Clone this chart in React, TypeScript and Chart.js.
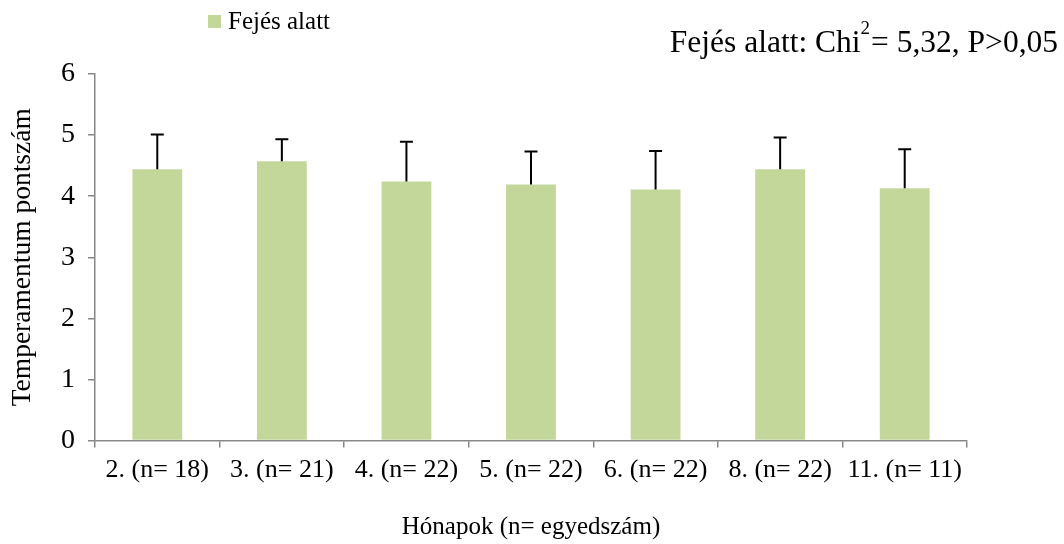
import { useEffect, useRef } from "react";
import { Chart, registerables } from "chart.js";

Chart.register(...registerables);

const categories = [
  "2. (n= 18)",
  "3. (n= 21)",
  "4. (n= 22)",
  "5. (n= 22)",
  "6. (n= 22)",
  "8. (n= 22)",
  "11. (n= 11)",
];
const meanScores = [4.44, 4.57, 4.24, 4.19, 4.11, 4.44, 4.13];
const sdScores = [0.57, 0.36, 0.65, 0.54, 0.63, 0.52, 0.64];
const yTickValues = [0, 1, 2, 3, 4, 5, 6];
const seriesLabel = "Fejés alatt";
const statMain = "Fejés alatt: Chi";
const statSup = "2";
const statRest = "= 5,32, P>0,05";
const xTitle = "Hónapok (n= egyedszám)";
const yTitle = "Temperamentum pontszám";

const FONT = '"Liberation Serif", "Times New Roman", serif';
const BAR_COLOR = "#C4D79B";
const AXIS_COLOR = "#888888";

const errorBarPlugin = {
  id: "errorBars",
  afterDatasetsDraw(chart: any) {
    const meta = chart.getDatasetMeta(0);
    const yScale = chart.scales.y;
    const ctx = chart.ctx;
    ctx.save();
    ctx.strokeStyle = "#000000";
    ctx.lineWidth = 2;
    meta.data.forEach((bar: any, i: number) => {
      const x = bar.x;
      const base = yScale.getPixelForValue(meanScores[i]);
      const top = yScale.getPixelForValue(meanScores[i] + sdScores[i]);
      ctx.beginPath();
      ctx.moveTo(x, base);
      ctx.lineTo(x, top);
      ctx.moveTo(x - 6.5, top);
      ctx.lineTo(x + 6.5, top);
      ctx.stroke();
    });
    ctx.restore();
  },
};

const headerPlugin = {
  id: "header",
  afterDraw(chart: any) {
    const ctx = chart.ctx;
    const ds = chart.data.datasets[0];
    ctx.save();
    // legend
    ctx.fillStyle = ds.backgroundColor;
    ctx.fillRect(208, 15, 13, 13);
    ctx.fillStyle = "#000000";
    ctx.font = `25px ${FONT}`;
    ctx.textBaseline = "alphabetic";
    ctx.textAlign = "left";
    ctx.fillText(ds.label, 228, 29);
    // statistics annotation
    const mainFont = `31.5px ${FONT}`;
    const supFont = `19px ${FONT}`;
    ctx.font = mainFont;
    const wMain = ctx.measureText(statMain).width;
    const wRest = ctx.measureText(statRest).width;
    ctx.font = supFont;
    const wSup = ctx.measureText(statSup).width;
    const right = 1058;
    const start = right - wRest - wSup - wMain - 1;
    ctx.font = mainFont;
    ctx.fillText(statMain, start, 52);
    ctx.font = supFont;
    ctx.fillText(statSup, start + wMain, 34);
    ctx.font = mainFont;
    ctx.fillText(statRest, start + wMain + wSup + 1, 52);
    ctx.restore();
  },
};

export default function App() {
  const canvasRef = useRef<HTMLCanvasElement | null>(null);

  useEffect(() => {
    if (!canvasRef.current) return;
    const chart = new Chart(canvasRef.current, {
      type: "bar",
      data: {
        labels: categories,
        datasets: [
          {
            label: seriesLabel,
            data: meanScores,
            backgroundColor: BAR_COLOR,
            borderWidth: 0,
            barPercentage: 0.4,
            categoryPercentage: 1.0,
          },
        ],
      },
      plugins: [errorBarPlugin, headerPlugin],
      options: {
        animation: false,
        responsive: true,
        maintainAspectRatio: false,
        layout: { padding: { top: 74, right: 97, bottom: 0, left: 0 } },
        plugins: {
          legend: { display: false },
          title: { display: false },
          tooltip: { enabled: false },
        },
        scales: {
          x: {
            offset: true,
            grid: {
              offset: true,
              drawOnChartArea: false,
              drawTicks: true,
              tickLength: 7,
              color: AXIS_COLOR,
              lineWidth: 1.5,
            },
            border: { display: true, color: AXIS_COLOR, width: 1.5 },
            ticks: {
              color: "#000000",
              font: { family: FONT, size: 26 },
              padding: 7,
              maxRotation: 0,
              autoSkip: false,
            },
            title: {
              display: true,
              text: xTitle,
              color: "#000000",
              font: { family: FONT, size: 25 },
              padding: { top: 0, bottom: 2 },
            },
            afterFit(axis: any) {
              axis.height = 103.5;
            },
          },
          y: {
            min: yTickValues[0],
            max: yTickValues[yTickValues.length - 1],
            grid: {
              drawOnChartArea: false,
              drawTicks: true,
              tickLength: 7,
              color: AXIS_COLOR,
              lineWidth: 1.5,
            },
            border: { display: true, color: AXIS_COLOR, width: 1.5 },
            ticks: {
              stepSize: 1,
              color: "#000000",
              font: { family: FONT, size: 28 },
              padding: 13,
            },
            title: {
              display: true,
              text: yTitle,
              color: "#000000",
              font: { family: FONT, size: 27.5 },
              padding: { top: 6, bottom: 0 },
            },
            afterFit(axis: any) {
              axis.width = 95;
            },
          },
        },
      },
    });
    return () => chart.destroy();
  }, []);

  return (
    <div
      style={{
        position: "absolute",
        left: 0,
        top: 0,
        width: 1064,
        height: 544,
        background: "#ffffff",
      }}
    >
      <canvas ref={canvasRef} />
    </div>
  );
}
